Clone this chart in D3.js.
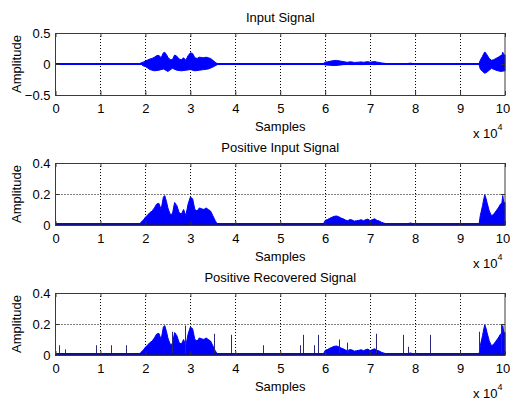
<!DOCTYPE html>
<html>
<head>
<meta charset="utf-8">
<script src="https://cdn.jsdelivr.net/npm/d3@7"></script>
<style>
  body { margin: 0; background: #fff; }
  text { font-family: "Liberation Sans", Arial, sans-serif; font-size: 13px; fill: #000; }
</style>
</head>
<body>
<svg id="chart" width="510" height="401"></svg>
<script>
// envelope of the positive part of the signal (sample index, amplitude)
const posX = [0, 2500, 2800, 3100,
  18500, 19000, 19500, 20000, 20500, 21000, 21500, 22000, 22500, 23000, 23500, 24000, 24300, 24700,
  25000, 25500, 26000, 26500, 27000, 27500, 28000, 28500, 29000, 29500, 30000, 30500, 31000, 31500,
  32000, 32500, 33000, 33500, 34000, 34500, 35000, 35500, 36000, 36500,
  59500, 60000, 60500, 61000, 61500, 62000, 62500, 63000, 63500, 64000, 64500, 65000, 65500, 66000,
  66500, 67000, 67500, 68000, 68500, 69000, 69500, 70000, 70500, 71000, 71500, 72000, 72500, 73000,
  73500, 74000, 74500,
  77500, 78000, 78500, 79000, 79500, 80000, 80500,
  94200, 94500, 95000, 95300, 95500, 95800, 96000, 96500, 97000, 97500, 98000, 98500, 99000, 99300,
  99500, 99700, 100000];
const posY = [0, 0, 0.006, 0,
  0, 0.017, 0.03, 0.05, 0.065, 0.08, 0.09, 0.11, 0.135, 0.14, 0.10, 0.18, 0.19, 0.15,
  0.11, 0.07, 0.07, 0.145, 0.125, 0.08, 0.07, 0.10, 0.06, 0.135, 0.18, 0.17, 0.10, 0.09,
  0.11, 0.105, 0.10, 0.11, 0.10, 0.09, 0.06, 0.03, 0.005, 0,
  0, 0.03, 0.035, 0.043, 0.05, 0.056, 0.058, 0.054, 0.045, 0.04, 0.032, 0.028, 0.035, 0.032,
  0.025, 0.028, 0.03, 0.034, 0.028, 0.034, 0.038, 0.028, 0.035, 0.04, 0.03, 0.026, 0.018, 0.013,
  0.008, 0.004, 0,
  0, 0.005, 0.01, 0.013, 0.008, 0.003, 0,
  0, 0.06, 0.125, 0.17, 0.195, 0.17, 0.145, 0.09, 0.06, 0.07, 0.09, 0.11, 0.135, 0.14,
  0.19, 0.15, 0.145];

// lower envelope of the input signal
const negX = [0, 19000, 19500, 20000, 21000, 22000, 23000, 24000, 24500, 25000, 26000, 27000, 28000,
  29000, 30000, 31000, 32000, 33000, 34000, 35000, 36000, 36500,
  59500, 60000, 61000, 62000, 63000, 64000, 65000, 66000, 67000, 68000, 69000, 70000, 71000, 72000, 73000,
  78500, 79000, 79500,
  94200, 94500, 95000, 95500, 96000, 97000, 98000, 99000, 100000];
const negY = [0, 0, -0.03, -0.04, -0.09, -0.11, -0.10, -0.08, -0.10, -0.12, -0.07, -0.10, -0.11,
  -0.10, -0.09, -0.11, -0.10, -0.09, -0.08, -0.05, -0.01, 0,
  0, -0.015, -0.02, -0.025, -0.02, -0.01, -0.008, -0.01, -0.008, -0.01, -0.008, -0.008, -0.01, -0.006, 0,
  0, -0.01, 0,
  0, -0.08, -0.12, -0.15, -0.13, -0.07, -0.10, -0.12, -0.11];

// isolated spikes in the recovered signal
const spikeX = [800, 2150, 9000, 12300, 15700, 26000, 28700, 35300, 39000, 46100, 54400,
  55000, 57600, 58300, 63000, 64800, 71300, 77300, 78500, 83400, 94300, 99000];
const spikeY = [0.063, 0.036, 0.063, 0.063, 0.063, 0.15, 0.19, 0.137, 0.13, 0.063, 0.063,
  0.13, 0.063, 0.13, 0.1, 0.08, 0.137, 0.13, 0.053, 0.13, 0.15, 0.2];

const titles = ["Input Signal", "Positive Input Signal", "Positive Recovered Signal"];
const xTicks = d3.range(0, 100001, 10000);
const yTicksIn = [-0.5, 0, 0.5];
const yTicksPos = [0, 0.2, 0.4];

const svg = d3.select("#chart");
const left = 55.5, right = 505, panelH = 62;
const tops = [33, 163, 293];

const x = d3.scaleLinear().domain([0, 100000]).range([left, right]);

const pos = posX.map((d, i) => [d, posY[i]]);
const neg = negX.map((d, i) => [d, negY[i]]);
const spikes = spikeX.map((d, i) => [d, spikeY[i]]);

function panel(k, yDomain, yTicks, draw) {
  const top = tops[k], bottom = top + panelH;
  const y = d3.scaleLinear().domain(yDomain).range([bottom, top]);
  const g = svg.append("g");

  // dotted grid
  g.selectAll(".gx").data(xTicks.slice(1, -1)).enter().append("line")
    .attr("x1", d => Math.round(x(d)) + 0.5).attr("x2", d => Math.round(x(d)) + 0.5)
    .attr("y1", top).attr("y2", bottom)
    .attr("stroke", "#000").attr("stroke-dasharray", "1,2");
  g.selectAll(".gy").data(yTicks.slice(1, -1)).enter().append("line")
    .attr("x1", left).attr("x2", right)
    .attr("y1", d => Math.round(y(d)) + 0.5).attr("y2", d => Math.round(y(d)) + 0.5)
    .attr("stroke", "#000").attr("stroke-dasharray", "1,2");

  draw(g, y);

  // ticks on all four sides
  const ax = (axis, tr) => {
    const a = g.append("g").attr("transform", tr).call(axis);
    a.select(".domain").remove();
    a.selectAll("line").attr("stroke", "#333");
    a.attr("font-family", null).attr("font-size", null);
    return a;
  };
  const xb = ax(d3.axisBottom(x).tickValues(xTicks).tickSizeInner(-4).tickSizeOuter(0).tickPadding(8.3)
    .tickFormat(d => d / 10000), `translate(0,${bottom})`);
  xb.selectAll("text").filter(d => d === 100000).attr("dx", -2.5);
  ax(d3.axisTop(x).tickValues(xTicks).tickSizeInner(-4).tickSizeOuter(0).tickFormat(""),
    `translate(0,${top})`);
  ax(d3.axisLeft(y).tickValues(yTicks).tickSizeInner(-4).tickSizeOuter(0).tickPadding(5)
    .tickFormat(d3.format("")), `translate(${left},0)`);
  ax(d3.axisRight(y).tickValues(yTicks).tickSizeInner(-4).tickSizeOuter(0).tickFormat(""),
    `translate(${right},0)`);

  g.append("rect")
    .attr("x", left).attr("y", top + 0.5).attr("width", right - left).attr("height", panelH)
    .attr("fill", "none").attr("stroke", "#3a3a3a");

  g.append("text").attr("x", (left + right) / 2).attr("y", top - 11.3)
    .attr("text-anchor", "middle").text(titles[k]);
  g.append("text").attr("x", (left + right) / 2).attr("y", bottom + 35.5)
    .attr("text-anchor", "middle").text("Samples");
  const ex = g.append("text").attr("x", 473).attr("y", bottom + 42.6);
  ex.append("tspan").text("x 10");
  ex.append("tspan").attr("dy", -8).style("font-size", "9px").text("4");
  g.append("text").attr("transform", `translate(20.5,${(top + bottom) / 2}) rotate(-90)`)
    .attr("text-anchor", "middle").text("Amplitude");
}

const blue = "#0000ff";

panel(0, [-0.5, 0.5], yTicksIn, (g, y) => {
  const area = d3.area().x(d => x(d[0])).y0(y(0)).y1(d => y(d[1]));
  g.append("path").datum(pos).attr("d", area).attr("fill", blue).attr("stroke", blue).attr("stroke-width", 1);
  g.append("path").datum(neg).attr("d", area).attr("fill", blue).attr("stroke", blue).attr("stroke-width", 1);
  g.append("line").attr("x1", left).attr("x2", right).attr("y1", y(0)).attr("y2", y(0))
    .attr("stroke", blue).attr("stroke-width", 2);
});

panel(1, [0, 0.4], yTicksPos, (g, y) => {
  const area = d3.area().x(d => x(d[0])).y0(y(0)).y1(d => y(d[1]));
  g.append("path").datum(pos).attr("d", area).attr("fill", blue).attr("stroke", blue).attr("stroke-width", 1);
  g.append("line").attr("x1", left).attr("x2", right).attr("y1", y(0) - 1).attr("y2", y(0) - 1)
    .attr("stroke", "#10108a").attr("stroke-width", 2);
});

panel(2, [0, 0.4], yTicksPos, (g, y) => {
  const area = d3.area().x(d => x(d[0])).y0(y(0)).y1(d => y(d[1]));
  g.append("path").datum(pos).attr("d", area).attr("fill", blue).attr("stroke", blue).attr("stroke-width", 1);
  g.selectAll(".spike").data(spikes).enter().append("line")
    .attr("x1", d => Math.round(x(d[0])) + 0.5).attr("x2", d => Math.round(x(d[0])) + 0.5)
    .attr("y1", y(0)).attr("y2", d => y(d[1]))
    .attr("stroke", "#2a2a7a").attr("stroke-width", 1);
  g.append("line").attr("x1", left).attr("x2", right).attr("y1", y(0) - 1).attr("y2", y(0) - 1)
    .attr("stroke", "#10108a").attr("stroke-width", 2);
});
</script>
</body>
</html>
